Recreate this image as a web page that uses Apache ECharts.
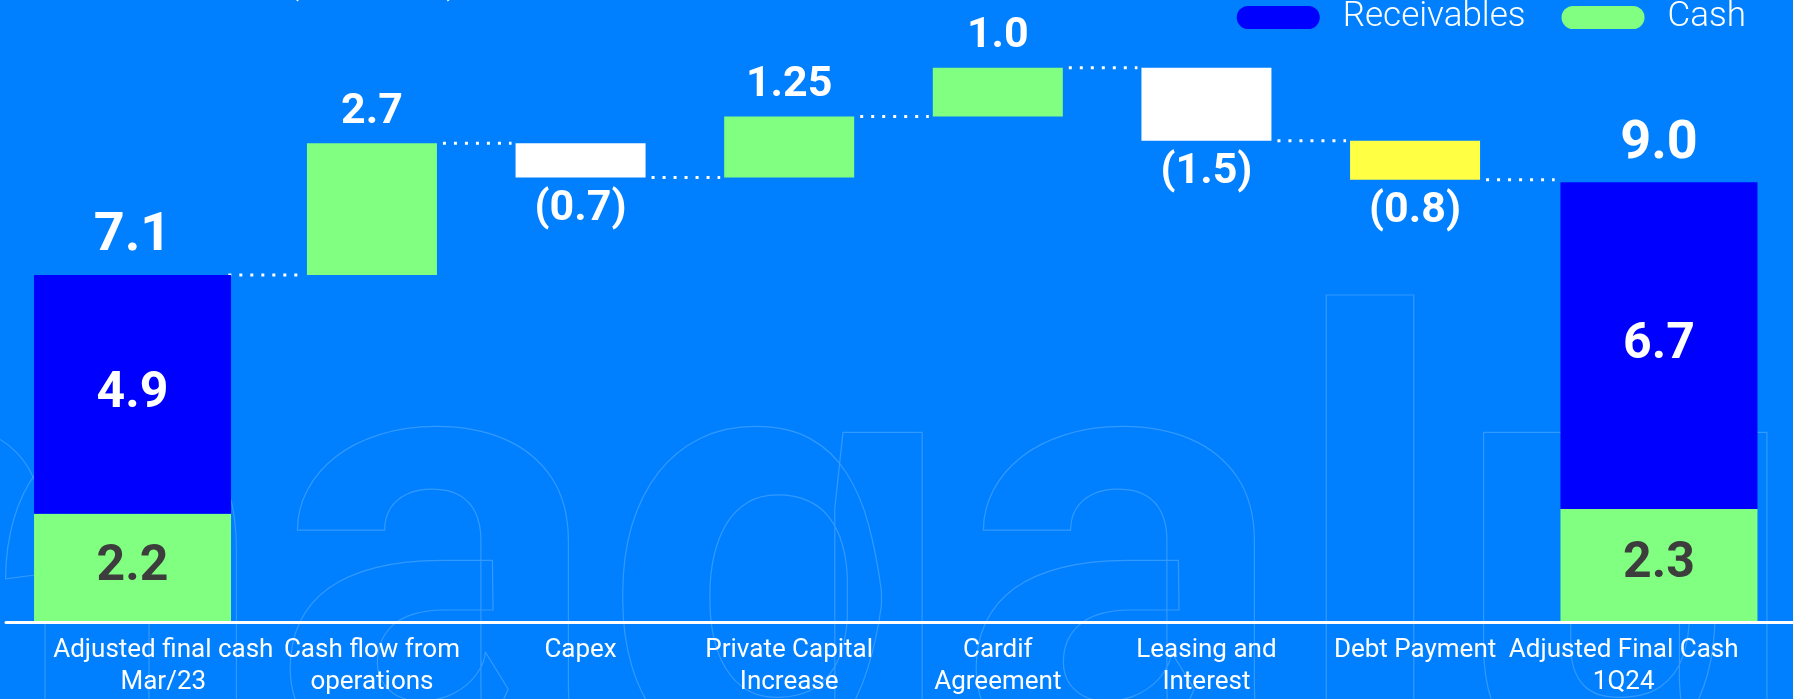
<!DOCTYPE html>
<html>
<head>
<meta charset="utf-8">
<script src="https://cdn.jsdelivr.net/npm/echarts@6/dist/echarts.min.js"></script>
<style>
  html, body { margin: 0; padding: 0; background: #0080ff; }
  #chart { width: 1793px; height: 699px; }
</style>
</head>
<body>
<div id="chart"></div>
<script>
// Cash bridge, R$ billion
const categories = [
  'Adjusted final cash\nMar/23',
  'Cash flow from\noperations',
  'Capex',
  'Private Capital\nIncrease',
  'Cardif\nAgreement',
  'Leasing and\nInterest',
  'Debt Payment',
  'Adjusted Final Cash\n1Q24'
];
// opening (Mar/23) and closing (1Q24) balances
const cash = [2.2, 2.3];
const receivables = [4.9, 6.7];
// movements between the two balances, in category order
const movements = [2.7, -0.7, 1.25, 1.0, -1.5, -0.8];
const movementColors = ['#80ff80', '#ffffff', '#80ff80', '#80ff80', '#ffffff', '#ffff44'];

const FONT = 'Roboto, "Noto Sans", sans-serif';
const MID_BAR = 130;
const END_BAR = 197;
const Y_MAX = 12;
const last = categories.length - 1;

function fmt(v) {
  const r = +v.toFixed(2);
  return Number.isInteger(r) ? r.toFixed(1) : String(r);
}

// end columns: opening and closing balances
const endPick = (arr) => categories.map((_, i) => i === 0 ? arr[0] : (i === last ? arr[1] : '-'));
const cashData = endPick(cash);
const receivablesData = endPick(receivables);
const totals = [cash[0] + receivables[0], cash[1] + receivables[1]];
const totalData = categories.map((_, i) => (i === 0 || i === last) ? 0 : '-');

// floating movement columns
const levels = [totals[0]];
const baseData = categories.map(() => '-');
const deltaData = categories.map(() => '-');
movements.forEach((m, k) => {
  const prev = levels[levels.length - 1];
  const next = prev + m;
  baseData[k + 1] = Math.min(prev, next);
  deltaData[k + 1] = {
    value: Math.abs(m),
    itemStyle: { color: movementColors[k] },
    label: {
      position: m >= 0 ? 'top' : 'bottom',
      formatter: m >= 0 ? fmt(m) : '(' + fmt(-m) + ')'
    }
  };
  levels.push(next);
});
const connectorData = levels.map((v, k) => [k, v]);

const gridTop = 36, gridBottom = 78;
const pill = 'path://M11.5,0 H71.5 A11.5,11.5 0 0 1 71.5,23 H11.5 A11.5,11.5 0 0 1 11.5,0 Z';

const chart = echarts.init(document.getElementById('chart'));
chart.setOption({
  backgroundColor: '#0080ff',
  animation: false,
  textStyle: { fontFamily: FONT },
  graphic: [
    {
      type: 'text', silent: true, z: 0,
      x: -267, y: 605,
      style: {
        text: 'magalu',
        font: 'bold 620px Roboto',
        fill: 'rgba(0,0,0,0)',
        stroke: 'rgba(255,255,255,0.2)',
        lineWidth: 1.2,
        align: 'left', verticalAlign: 'middle',
        textAlign: 'left', textVerticalAlign: 'middle'
      }
    },
    {
      type: 'text', silent: true, z: 5,
      x: 287, y: -16,
      style: {
        text: '(R$ billion)',
        font: '36px Roboto',
        fill: '#ffffff',
        align: 'left', verticalAlign: 'middle',
        textAlign: 'left', textVerticalAlign: 'middle'
      }
    }
  ],
  legend: {
    data: ['Receivables', 'Cash'],
    right: 42, top: -5,
    icon: pill,
    itemWidth: 83, itemHeight: 23, itemGap: 36,
    selectedMode: false,
    textStyle: { color: '#ffffff', fontSize: 35, fontFamily: FONT, fontWeight: 300, padding: [0, 0, 0, 18] }
  },
  grid: [
    { left: 59, right: 65, top: gridTop, bottom: gridBottom },
    { left: 23.5, right: 25, top: gridTop, bottom: gridBottom },
    { left: 6, right: 0, top: gridTop, bottom: gridBottom - 1 }
  ],
  xAxis: [
    {
      type: 'category', gridIndex: 0, data: categories,
      axisLine: { show: false }, axisTick: { show: false },
      axisLabel: {
        interval: 0, color: '#ffffff', fontSize: 26, lineHeight: 32,
        margin: 13, fontFamily: FONT
      }
    },
    { type: 'category', gridIndex: 1, data: categories, show: false },
    {
      type: 'value', gridIndex: 2, min: 0, max: 1,
      axisLine: { show: true, lineStyle: { color: '#ffffff', width: 3 } },
      axisTick: { show: false }, axisLabel: { show: false }, splitLine: { show: false }
    }
  ],
  yAxis: [
    { type: 'value', gridIndex: 0, min: 0, max: Y_MAX, show: false },
    { type: 'value', gridIndex: 1, min: 0, max: Y_MAX, show: false },
    { type: 'value', gridIndex: 2, min: 0, max: 1, show: false }
  ],
  series: [
    {
      name: 'connector', type: 'custom', xAxisIndex: 0, yAxisIndex: 0,
      z: 1, silent: true, data: connectorData,
      renderItem: function (params, api) {
        const k = api.value(0), v = api.value(1);
        const a = api.coord([k, v]);
        const b = api.coord([k + 1, v]);
        const pad = k === 0 ? 0 : 6;
        return {
          type: 'line',
          shape: { x1: a[0] + MID_BAR / 2 + pad, y1: a[1], x2: b[0] - MID_BAR / 2 - 4, y2: b[1] },
          style: { stroke: '#ffffff', lineWidth: 3, lineDash: [3, 8] }
        };
      }
    },
    {
      name: 'base', type: 'bar', stack: 'flow', xAxisIndex: 0, yAxisIndex: 0,
      barWidth: MID_BAR, silent: true,
      itemStyle: { color: 'rgba(0,0,0,0)' },
      data: baseData
    },
    {
      name: 'movement', type: 'bar', stack: 'flow', xAxisIndex: 0, yAxisIndex: 0,
      barWidth: MID_BAR, silent: true,
      label: {
        show: true, color: '#ffffff', fontSize: 43, fontWeight: 'bold',
        fontFamily: FONT, distance: 10, lineHeight: 43
      },
      data: deltaData
    },
    {
      name: 'Cash', type: 'bar', stack: 'end', xAxisIndex: 1, yAxisIndex: 1,
      barWidth: END_BAR, silent: true,
      itemStyle: { color: '#80ff80' },
      label: {
        show: true, position: 'inside', color: '#3d3d3d', fontSize: 50,
        fontWeight: 'bold', fontFamily: FONT, formatter: (p) => fmt(p.value)
      },
      data: cashData
    },
    {
      name: 'Receivables', type: 'bar', stack: 'end', xAxisIndex: 1, yAxisIndex: 1,
      barWidth: END_BAR, silent: true,
      itemStyle: { color: '#0000ff' },
      label: {
        show: true, position: 'inside', color: '#ffffff', fontSize: 50,
        fontWeight: 'bold', fontFamily: FONT, formatter: (p) => fmt(p.value)
      },
      data: receivablesData
    },
    {
      name: 'total', type: 'bar', stack: 'end', xAxisIndex: 1, yAxisIndex: 1,
      barWidth: END_BAR, silent: true,
      itemStyle: { color: 'rgba(0,0,0,0)' },
      label: {
        show: true, position: 'top', color: '#ffffff', fontSize: 54,
        fontWeight: 'bold', fontFamily: FONT, distance: 11, lineHeight: 54,
        formatter: (p) => (p.dataIndex === 0 ? totals[0] : totals[1]).toFixed(1)
      },
      data: totalData
    }
  ]
});
</script>
</body>
</html>
